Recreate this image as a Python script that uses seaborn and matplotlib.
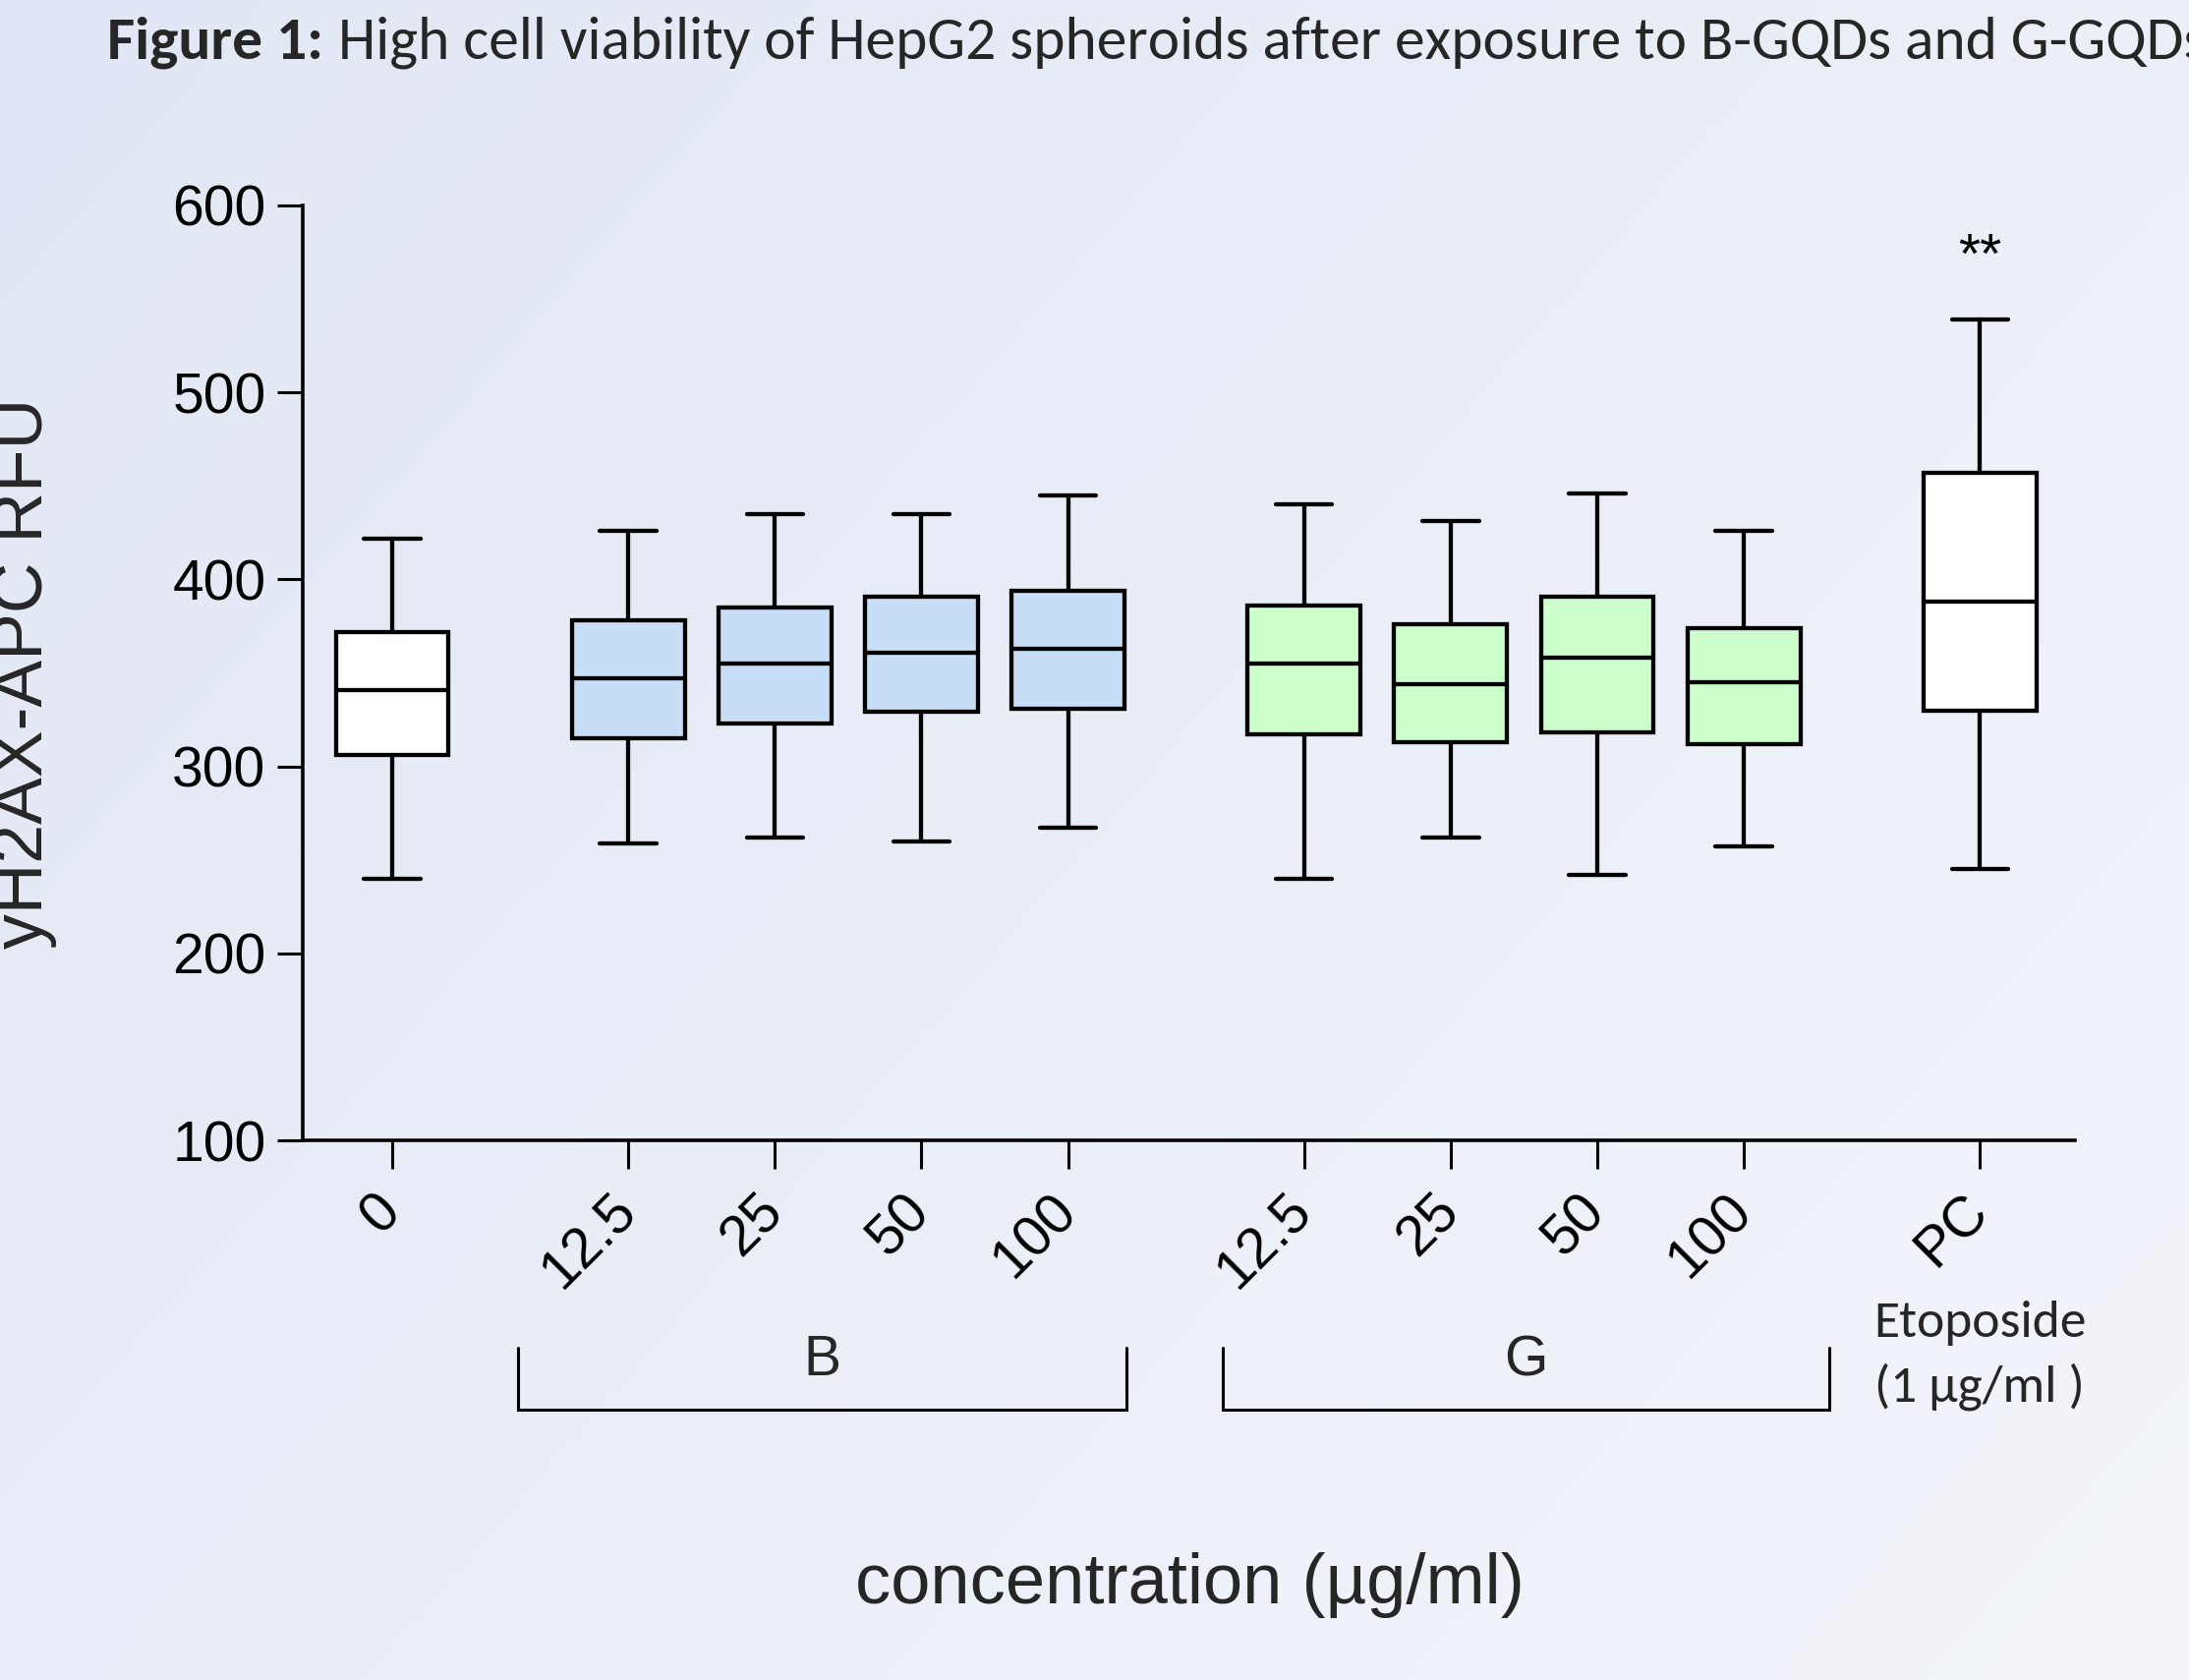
import numpy as np
import pandas as pd
import matplotlib
matplotlib.use("Agg")
import matplotlib.pyplot as plt
import seaborn as sns
from matplotlib import font_manager as fm
from matplotlib.transforms import blended_transform_factory

# ---------------- data ----------------
tick_labels = ["0", "12.5", "25", "50", "100", "12.5", "25", "50", "100", "PC"]
groups = ["ctrl", "B", "B", "B", "B", "G", "G", "G", "G", "PC"]
whisk_low = [240, 259, 262, 260, 267, 240, 262, 242, 257, 245]
q1 = [306, 315, 323, 329, 331, 317, 313, 318, 312, 330]
median = [341, 347, 355, 361, 363, 355, 344, 358, 345, 388]
q3 = [372, 378, 385, 391, 394, 386, 376, 391, 374, 457]
whisk_high = [422, 426, 435, 435, 445, 440, 431, 446, 426, 539]
group_labels = ["B", "G"]
title_bold = "Figure 1:"
title_rest = "High cell viability of HepG2 spheroids after exposure to B-GQDs and G-GQDs"
pc_note = ["Etoposide", "(1 \u00b5g/ml )"]
y_ticks = [100, 200, 300, 400, 500, 600]

# ---------------- style ----------------
palette = {"ctrl": "white", "B": "#C8DDF6", "G": "#CCFFCC", "PC": "white"}

sns.set_style("ticks")
avail = {f.name for f in fm.fontManager.ttflist}


def pick(*names):
    for n in names:
        if n in avail:
            return n
    return "DejaVu Sans"


ARIAL = pick("Liberation Sans", "Arimo", "DejaVu Sans")
CAL = pick("Carlito", "Lato", "Open Sans")
NARROW = pick("Liberation Sans Narrow", ARIAL)
plt.rcParams["font.family"] = [ARIAL, "DejaVu Sans"]

W, H = 2227, 1709
fig = plt.figure(figsize=(W / 100, H / 100), dpi=100)

# background gradient
bg = fig.add_axes([0, 0, 1, 1], zorder=-10)
yy, xx = np.mgrid[0:1:200j, 0:1:260j]
t = 0.6 * xx + 0.4 * yy
c0 = np.array([225, 231, 244]) / 255
c1 = np.array([243, 245, 250]) / 255
img = c0 + (c1 - c0) * t[..., None]
bg.imshow(img, extent=[0, 1, 0, 1], aspect="auto", origin="upper", interpolation="bilinear")
bg.set_axis_off()

# positions on the x axis (layout: unit spacing inside groups, wider gaps between)
step, gap = 1.0, 1.61
pos = []
x = 0.0
for i, g in enumerate(groups):
    if i > 0:
        x += step if groups[i] == groups[i - 1] else gap
    pos.append(x)

rows = []
for p, g, lo, a, m, b, hi in zip(pos, groups, whisk_low, q1, median, q3, whisk_high):
    for v in (lo, a, m, b, hi):
        rows.append({"pos": p, "group": g, "value": v})
df = pd.DataFrame(rows)

ax = fig.add_axes([308 / W, 1 - 1160 / H, (2111 - 308) / W, (1160 - 209) / H])
ax.set_facecolor("none")
sns.boxplot(data=df, x="pos", y="value", hue="group", palette=palette,
            native_scale=True, dodge=False, whis=(0, 100), width=0.77,
            saturation=1, linecolor="black", linewidth=3.1, legend=False,
            ax=ax, fliersize=0)

ax.set_xlim(pos[0] - 0.61, pos[0] - 0.61 + (2111 - 308) / 149.15)
ax.set_ylim(100, 600)
ax.set_yticks(y_ticks)
ax.set_yticklabels([str(v) for v in y_ticks], fontsize=41)
ax.set_xticks(pos)
ax.set_xticklabels(tick_labels, fontsize=41, rotation=45, ha="right",
                   rotation_mode="anchor", va="center")
ax.tick_params(axis="y", length=19, width=2.2, pad=8, colors="black")
ax.tick_params(axis="x", length=21, width=2.2, pad=25, colors="black")
ax.set_xlabel("")
ax.set_ylabel("")
sns.despine(ax=ax)
for s in ("left", "bottom"):
    ax.spines[s].set_linewidth(2.6)
    ax.spines[s].set_color("black")

# significance stars
ax.text(pos[-1], 564, "**", ha="center", va="baseline", fontsize=41, color="black")

# group brackets
trans = blended_transform_factory(ax.transData, fig.transFigure)
yb_top, yb_bot = 1 - 1371 / H, 1 - 1434 / H
brackets = [(pos[1] - 0.752, pos[4] + 0.40), (pos[5] - 0.553, pos[8] + 0.58)]
for (x0, x1), lab in zip(brackets, group_labels):
    ax.plot([x0, x0, x1, x1], [yb_top, yb_bot, yb_bot, yb_top], color="black",
            lw=2.2, transform=trans, clip_on=False, solid_joinstyle="miter")
    ax.text((x0 + x1) / 2, 1 - 1384 / H, lab, transform=trans, ha="center",
            va="center", fontsize=41)

# PC note
ax.text(pos[-1] + 0.0, 1 - 1346 / H, pc_note[0], transform=trans, ha="center",
        va="center", fontsize=38.5, family=[CAL, "DejaVu Sans"])
ax.text(pos[-1] + 0.0, 1 - 1411 / H, pc_note[1], transform=trans, ha="center",
        va="center", fontsize=38.5, family=[CAL, "DejaVu Sans"])

# x label
fig.text(1210 / W, 1 - 1612 / H, "concentration (\u00b5g/ml)", ha="center",
         va="center", fontsize=52)

# y label (partly clipped by the left edge, as in the reference)
fig.canvas.draw()
r = fig.canvas.get_renderer()
yl = fig.text(58 / W, 1 - 685 / H, "yH2AX-APC RFU", rotation=90, ha="right",
              va="center", fontsize=50, family=[NARROW, "DejaVu Sans"])
h = yl.get_window_extent(r).height
yl.set_fontsize(50 * 561 / h)

# title
t1 = fig.text(109 / W, 1 - 60 / H, title_bold, fontsize=40, weight="bold",
              family=[CAL, "DejaVu Sans"], ha="left", va="baseline")
t2 = fig.text(341 / W, 1 - 60 / H, title_rest, fontsize=40,
              family=[CAL, "DejaVu Sans"], ha="left", va="baseline")
w2 = t2.get_window_extent(r).width
fs = 40 * 1896 / w2
t1.set_fontsize(fs)
t2.set_fontsize(fs)
fig.canvas.draw()
e1 = t1.get_window_extent(r)
x2 = max(341, e1.x1 + 0.25 * fs * 100 / 72)
t2.set_x(x2 / W)

fig.savefig("out.png", dpi=100)
